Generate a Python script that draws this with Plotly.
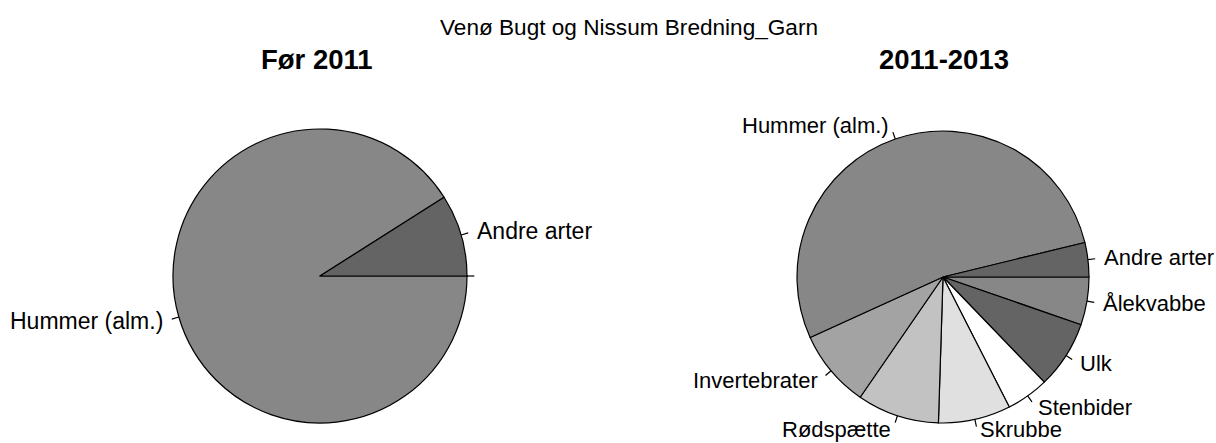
import math
import plotly.graph_objects as go

# ---- data ----
title_main = "Venø Bugt og Nissum Bredning_Garn"
left_title = "Før 2011"
right_title = "2011-2013"

left_labels = ["Andre arter", "Hummer (alm.)", ""]
left_values = [9.0, 91.0, 0.0]
left_colors = ["#646464", "#878787", "#a3a3a3"]

right_labels = ["Andre arter", "Hummer (alm.)", "Invertebrater", "Rødspætte",
                "Skrubbe", "Stenbider", "Ulk", "Ålekvabbe"]
right_values = [3.8, 53.0, 8.6, 9.1, 8.0, 4.7, 7.5, 5.3]
right_colors = ["#646464", "#878787", "#a3a3a3", "#c2c2c2",
                "#e0e0e0", "#ffffff", "#646464", "#878787"]

# ---- layout constants ----
W, H = 1216, 443
FONT = "Liberation Sans, Arial, sans-serif"
pies = [
    dict(labels=left_labels, values=left_values, colors=left_colors,
         cx=320, cy=276, r=147, fs=23),
    dict(labels=right_labels, values=right_values, colors=right_colors,
         cx=943, cy=277, r=146, fs=22),
]

fig = go.Figure()
shapes = []
annotations = []

for p in pies:
    cx, cy, r = p["cx"], p["cy"], p["r"]
    # R draws counter-clockwise from 3 o'clock; same result in plotly by
    # reversing the order and drawing clockwise from 3 o'clock.
    labs = [l if l else " " for l in p["labels"]][::-1]
    fig.add_trace(go.Pie(
        labels=labs,
        values=p["values"][::-1],
        sort=False,
        direction="clockwise",
        rotation=90,
        textinfo="none",
        hoverinfo="label+value",
        showlegend=False,
        marker=dict(colors=p["colors"][::-1], line=dict(color="black", width=1.2)),
        domain=dict(x=[(cx - r) / W, (cx + r) / W],
                    y=[(H - cy - r) / H, (H - cy + r) / H]),
    ))
    total = sum(p["values"])
    cum = 0.0
    for lab, v in zip(p["labels"], p["values"]):
        mid = 2 * math.pi * (cum + v / 2) / total
        cum += v
        c, s = math.cos(mid), math.sin(mid)
        x0, y0 = cx + r * c, cy - r * s
        x1, y1 = cx + 1.05 * r * c, cy - 1.05 * r * s
        shapes.append(dict(type="line", xref="paper", yref="paper",
                           x0=x0 / W, y0=1 - y0 / H, x1=x1 / W, y1=1 - y1 / H,
                           line=dict(color="black", width=1.2)))
        if lab:
            xt, yt = cx + 1.1 * r * c, cy - 1.1 * r * s
            # keep the text inside the picture
            yt = min(yt, H - 0.55 * p["fs"] - 1)
            annotations.append(dict(
                x=xt / W, y=1 - yt / H, xref="paper", yref="paper",
                text=lab, showarrow=False,
                xanchor="left" if c >= 0 else "right", yanchor="middle",
                font=dict(family=FONT, size=p["fs"], color="black")))

annotations.append(dict(x=629 / W, y=1 - 28 / H, xref="paper", yref="paper",
                        text=title_main, showarrow=False, xanchor="center", yanchor="middle",
                        font=dict(family=FONT, size=22.6, color="black")))
annotations.append(dict(x=317 / W, y=1 - 60 / H, xref="paper", yref="paper",
                        text="<b>" + left_title + "</b>", showarrow=False,
                        xanchor="center", yanchor="middle",
                        font=dict(family=FONT, size=27.5, color="black")))
annotations.append(dict(x=944 / W, y=1 - 60 / H, xref="paper", yref="paper",
                        text="<b>" + right_title + "</b>", showarrow=False,
                        xanchor="center", yanchor="middle",
                        font=dict(family=FONT, size=27.5, color="black")))

fig.update_layout(
    width=W, height=H,
    margin=dict(l=0, r=0, t=0, b=0),
    paper_bgcolor="white", plot_bgcolor="white",
    shapes=shapes, annotations=annotations,
    font=dict(family=FONT),
)

fig.write_html("out.html",
               config={"displayModeBar": False},
               post_script="document.body.style.margin='0px';"
                           "document.body.style.overflow='hidden';")
